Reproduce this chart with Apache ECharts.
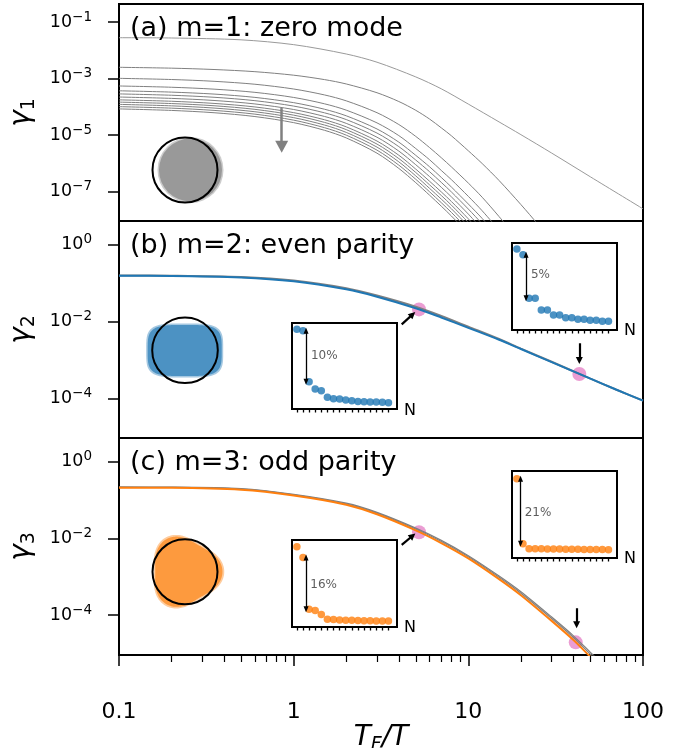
<!DOCTYPE html>
<html><head><meta charset="utf-8">
<script src="https://cdn.jsdelivr.net/npm/echarts@6/dist/echarts.min.js"></script>
<style>html,body{margin:0;padding:0;background:#fff}#c{width:693px;height:748px}</style>
</head><body><div id="c"></div>
<script>
// ---------------- DATA (gamma values stored as log10(gamma)) ----------------
const xTickValues = [0.1, 1, 10, 100];
const xTickLabels = ['0.1', '1', '10', '100'];
const yTicksA = [1e-7, 1e-5, 1e-3, 1e-1];
const yTicksBC = [1e-4, 1e-2, 1e0];

// panel (a): m=1 zero mode, family of gamma_1 curves
const TF_a_top = [0.1,0.2,0.5,1,2,3,5,7,10,15,20,30,50,100];
const logGamma1_curve1 = [-1.555,-1.565,-1.63,-1.80,-2.13,-2.42,-2.94,-3.36,-3.90,-4.53,-4.98,-5.63,-6.47,-7.60];
const TF_a = [0.1,0.2,0.35,0.6,1,1.5,2,3,4,5,6,7,8,10,12,15,20,25,30];
const logGamma1_curve2  = [-2.60,-2.631,-2.678,-2.755,-2.879,-3.034,-3.189,-3.499,-3.809,-4.119,-4.429,-4.739,-5.02,-5.55,-6.00,-6.60,-7.45,-8.15,-8.80];
const logGamma1_curve3  = [-2.99,-3.032,-3.095,-3.199,-3.367,-3.576,-3.785,-4.204,-4.622,-5.041,-5.437,-5.794,-6.12,-6.69,-7.19,-7.875,-8.80,null,null];
const logGamma1_curve4  = [-3.26,-3.305,-3.372,-3.485,-3.665,-3.889,-4.114,-4.564,-5.013,-5.47,-5.866,-6.244,-6.57,-7.16,-7.668,-8.355,null,null,null];
const logGamma1_curve5  = [-3.43,-3.477,-3.546,-3.663,-3.849,-4.081,-4.314,-4.779,-5.244,-5.71,-6.115,-6.49,-6.83,-7.43,-7.94,-8.63,null,null,null];
const logGamma1_curve6  = [-3.54,-3.588,-3.659,-3.779,-3.970,-4.208,-4.447,-4.924,-5.402,-5.876,-6.289,-6.666,-7.004,-7.608,-8.132,-8.824,null,null,null];
const logGamma1_curve7  = [-3.65,-3.699,-3.772,-3.895,-4.091,-4.336,-4.581,-5.070,-5.560,-6.042,-6.462,-6.839,-7.178,-7.786,-8.323,null,null,null,null];
const logGamma1_curve8  = [-3.75,-3.80,-3.876,-4.001,-4.202,-4.453,-4.704,-5.206,-5.707,-6.197,-6.626,-7.002,-7.342,-7.954,-8.505,null,null,null,null];
const logGamma1_curve9  = [-3.83,-3.881,-3.958,-4.086,-4.290,-4.546,-4.802,-5.313,-5.825,-6.316,-6.754,-7.129,-7.47,-8.085,-8.646,null,null,null,null];
const logGamma1_curve10 = [-3.91,-3.962,-4.040,-4.170,-4.379,-4.639,-4.900,-5.420,-5.941,-6.436,-6.878,-7.256,-7.598,-8.216,-8.782,null,null,null,null];
const logGamma1_curve11 = [-3.99,-4.043,-4.123,-4.255,-4.467,-4.732,-4.997,-5.527,-6.057,-6.556,-6.999,-7.383,-7.726,-8.347,-8.913,null,null,null,null];
const logGamma1_curve12 = [-4.07,-4.124,-4.205,-4.340,-4.555,-4.825,-5.095,-5.634,-6.173,-6.676,-7.119,-7.506,-7.854,-8.478,-9.043,null,null,null,null];

// panel (b): m=2 even parity
const TF_b = [0.1,0.2,0.5,1,2,3,5,7,10,15,20,30,50,70,100];
const logGamma2_blue = [-0.816,-0.82,-0.86,-0.96,-1.17,-1.36,-1.66,-1.90,-2.17,-2.48,-2.72,-3.06,-3.49,-3.77,-4.06];
const logGamma2_gray = [-0.81,-0.815,-0.85,-0.94,-1.14,-1.33,-1.62,-1.86,-2.14,-2.46,-2.71,-3.05,-3.49,-3.77,-4.06];
const pinkB = [[5.22,-1.69],[43.2,-3.37]];

// panel (c): m=3 odd parity
const TF_c = [0.1,0.2,0.5,1,2,3,5,7,10,15,20,30,40,50,60];
const logGamma3_orange = [-0.677,-0.68,-0.73,-0.88,-1.12,-1.37,-1.79,-2.12,-2.52,-3.06,-3.48,-4.15,-4.65,-5.09,-5.44];
const logGamma3_gray1  = [-0.667,-0.67,-0.715,-0.86,-1.10,-1.34,-1.755,-2.08,-2.48,-3.015,-3.43,-4.09,-4.585,-5.02,-5.37];
const logGamma3_gray2  = [-0.657,-0.66,-0.70,-0.85,-1.08,-1.32,-1.73,-2.05,-2.45,-2.98,-3.39,-4.05,-4.54,-4.97,-5.32];
const pinkC = [[5.22,-1.84],[41.2,-4.71]];

// annotation arrows [T0, log10 g0, T1, log10 g1]
const arrowA = [[0.854,-4.04,0.854,-5.41]];
const arrowsB = [[4.155,-2.08,4.80,-1.82],[43.2,-2.57,43.2,-3.02]];
const arrowsC = [[4.155,-2.17,4.80,-1.93],[41.7,-3.82,41.7,-4.25]];

// insets: relative gamma vs N (percent above the last value)
const insetN = [1,2,3,4,5,6,7,8,9,10,11,12,13,14,15,16];
const insetB_low  = [14.4,14.1,4.1,2.7,2.35,1.04,0.78,0.73,0.53,0.39,0.25,0.2,0.14,0.14,0.06,0];
const insetB_high = [8.3,7.65,2.65,2.65,1.31,1.31,0.73,0.73,0.42,0.42,0.23,0.23,0.12,0.12,0,0];
const insetC_low  = [22.9,19.6,3.6,3.2,2.0,0.53,0.43,0.31,0.25,0.2,0.15,0.1,0.06,0.03,0.02,0];
const insetC_high = [22.9,1.94,0.32,0.3,0.27,0.24,0.2,0.17,0.14,0.12,0.1,0.08,0.06,0.04,0.02,0];
const insetLabels = ['10%','5%','16%','21%'];

// ---------------- CHART ----------------
const FONT = 'DejaVu Sans';
const L = Math.log10;
const chart = echarts.init(document.getElementById('c'), null, {renderer:'canvas'});

function fmtExp(v){ const n = Math.round(v); return n < 0 ? '\u2212' + (-n) : '' + n; }
const expRich = {
  b:{fontSize:17.5,fontFamily:FONT,color:'#000',lineHeight:24},
  s:{fontSize:13.5,fontFamily:FONT,color:'#000',verticalAlign:'top',lineHeight:13}
};
function mainY(gi, min, max, ticks, sub){
  const tv = ticks.map(L);
  return {type:'value', gridIndex:gi, position:'left', min:min, max:max,
    axisLine:{show:false, onZero:false}, splitLine:{show:false},
    axisTick:{show:true, customValues:tv, length:11, lineStyle:{color:'#000', width:1.5}},
    axisLabel:{show:true, customValues:tv, margin:27, formatter:v=>'{b|10}{s|'+fmtExp(v)+'}', rich:expRich},
    name:'{g|\u03b3}{s|'+sub+'}', nameLocation:'middle', nameGap:74, nameRotate:90,
    nameTextStyle:{rich:{
      g:{fontSize:28,fontFamily:FONT,fontStyle:'italic',color:'#000',lineHeight:34},
      s:{fontSize:19,fontFamily:FONT,color:'#000',verticalAlign:'bottom',lineHeight:20}}}
  };
}
const minorX = [];
[0.1,1,10].forEach(d=>{for(let k=2;k<=9;k++) minorX.push(L(k*d));});

const grids = [
  {left:119, top:4, width:524, height:217},
  {left:119, top:221, width:524, height:217},
  {left:119, top:438, width:524, height:217},
  {left:292, top:323, width:105, height:86},
  {left:512, top:243, width:105, height:87},
  {left:292, top:540, width:105, height:87},
  {left:512, top:471, width:105, height:87}
].map(g=>Object.assign({show:true, borderColor:'#000', borderWidth:2, backgroundColor:'transparent',
  containLabel:false, outerBoundsMode:'none'}, g));

const xAxes = [
  {type:'value', gridIndex:0, position:'bottom', min:-1, max:2, show:false, axisLine:{onZero:false}},
  {type:'value', gridIndex:1, position:'bottom', min:-1, max:2, show:false, axisLine:{onZero:false}},
  {type:'value', gridIndex:2, position:'bottom', min:-1, max:2,
    axisLine:{show:false, onZero:false}, splitLine:{show:false},
    axisTick:{show:true, customValues:xTickValues.map(L), length:11, lineStyle:{color:'#000', width:1.5}},
    axisLabel:{show:true, customValues:xTickValues.map(L), margin:46, fontSize:22, fontFamily:FONT, color:'#000',
      formatter:v=>xTickLabels[xTickValues.findIndex(t=>Math.abs(L(t)-v)<1e-6)]},
    name:'{i|T}{s|F}{i|/T}', nameLocation:'middle', nameGap:65,
    nameTextStyle:{rich:{
      i:{fontSize:28,fontFamily:FONT,fontStyle:'italic',color:'#000',lineHeight:34},
      s:{fontSize:19,fontFamily:FONT,fontStyle:'italic',color:'#000',verticalAlign:'bottom',lineHeight:20}}}},
  {type:'value', gridIndex:2, position:'bottom', min:-1, max:2,
    axisLine:{show:false, onZero:false}, splitLine:{show:false}, axisLabel:{show:false},
    axisTick:{show:true, customValues:minorX, length:7, lineStyle:{color:'#000', width:1.2}}}
];
const insetYR = [[-1.24,15.6],[-1.0,9.0],[-1.86,25.0],[-2.7,25.4]];
for (let i=0;i<4;i++){
  xAxes.push({type:'value', gridIndex:3+i, position:'bottom', min:0.2, max:17.4,
    axisLine:{show:false, onZero:false}, splitLine:{show:false}, axisLabel:{show:false},
    axisTick:{show:true, customValues:insetN, length:3.5, lineStyle:{color:'#000', width:1.3}}});
}
const yAxes = [
  mainY(0, -8.03, -0.364, yTicksA, '1'),
  mainY(1, -5.03, 0.605, yTicksBC, '2'),
  mainY(2, -5.04, 0.62, yTicksBC, '3')
];
insetYR.forEach((r,i)=>yAxes.push({type:'value', gridIndex:3+i, position:'left', min:r[0], max:r[1], show:false, axisLine:{onZero:false}}));

const series = [];
function line(xi, xs, ys, color, width, extra){
  series.push(Object.assign({type:'line', xAxisIndex:xi, yAxisIndex:xi, showSymbol:false, symbol:'none',
    smooth:0.3, clip:true, silent:true, connectNulls:false,
    data: xs.map((t,i)=> [L(t), ys[i]==null ? null : ys[i]]),
    lineStyle:{color:color, width:width}}, extra||{}));
}
function arrowMark(list, color, width, size){
  return {silent:true, symbol:['none','triangle'], symbolSize:size, label:{show:false},
    lineStyle:{color:color, width:width, type:'solid'}, emphasis:{disabled:true}, animation:false,
    data:list.map(a=>[{coord:[L(a[0]),a[1]]},{coord:[L(a[2]),a[3]]}])};
}
// panel (a)
line(0, TF_a_top, logGamma1_curve1, '#9a9a9a', 1, {markLine: arrowMark(arrowA, '#808080', 2.5, [13,12])});
[logGamma1_curve2,logGamma1_curve3,logGamma1_curve4,logGamma1_curve5,logGamma1_curve6,logGamma1_curve7,
 logGamma1_curve8,logGamma1_curve9,logGamma1_curve10,logGamma1_curve11,logGamma1_curve12]
 .forEach(c=>line(0, TF_a, c, '#808080', 1));
// panel (b)
series.push({type:'scatter', xAxisIndex:1, yAxisIndex:1, symbolSize:14, silent:true, z:1,
  itemStyle:{color:'rgba(227,119,194,0.9)'}, data:pinkB.map(p=>[L(p[0]),p[1]]),
  markLine: arrowMark(arrowsB, '#000', 2.2, [7,7])});
line(1, TF_b, logGamma2_gray, '#808080', 2);
line(1, TF_b, logGamma2_blue, '#1f77b4', 2);
// panel (c)
series.push({type:'scatter', xAxisIndex:2, yAxisIndex:2, symbolSize:14, silent:true, z:1,
  itemStyle:{color:'rgba(227,119,194,0.9)'}, data:pinkC.map(p=>[L(p[0]),p[1]]),
  markLine: arrowMark(arrowsC, '#000', 2.2, [7,7])});
line(2, TF_c, logGamma3_gray2, '#808080', 1.2);
line(2, TF_c, logGamma3_gray1, '#808080', 1.2);
line(2, TF_c, logGamma3_orange, '#ff7f0e', 2);

// insets
const insetData = [insetB_low, insetB_high, insetC_low, insetC_high];
const insetColor = ['#1f77b4','#1f77b4','#ff7f0e','#ff7f0e'];
const insetArrow = [[2.5,1,2],[2.5,1,2],[2.5,1,2],[1.6,0,1]];
const insetLabelPos = [[3.3,9.1],[3.3,5.3],[3.2,11.0],[2.27,11.8]];
insetData.forEach((d,i)=>{
  const a = insetArrow[i];
  series.push({type:'scatter', xAxisIndex:4+i, yAxisIndex:3+i, symbolSize:7.5, silent:true,
    itemStyle:{color:insetColor[i]}, data:insetN.map((n,k)=>[n,d[k]]),
    markLine:{silent:true, symbol:['triangle','triangle'], symbolSize:[5,6], label:{show:false}, animation:false,
      lineStyle:{color:'#000', width:1.3, type:'solid'},
      data:[[{coord:[a[0], d[a[1]]]},{coord:[a[0], d[a[2]]]}]]}});
  series.push({type:'scatter', xAxisIndex:4+i, yAxisIndex:3+i, symbolSize:0, silent:true,
    data:[insetLabelPos[i]], label:{show:true, position:'right', distance:0, formatter:insetLabels[i],
      fontSize:12, fontFamily:FONT, color:'#333'}});
});

// schematic shapes
function poly(cx, cy, f, n){ const p=[]; for(let i=0;i<n;i++){const t=2*Math.PI*i/n; const d=f(t); p.push([cx+d[0], cy+d[1]]);} return p; }
function superEll(a,b,p){ return t=>{const c=Math.cos(t), s=Math.sin(t);
  return [a*Math.sign(c)*Math.pow(Math.abs(c),2/p), b*Math.sign(s)*Math.pow(Math.abs(s),2/p)];}; }
function trefoil(R,e){ return t=>{const r=R*(1+e*Math.cos(3*t)); return [r*Math.cos(t), -r*Math.sin(t)];}; }
const TXT = (t,x,y,size)=>({type:'text', x:x, y:y, z:12,
  style:{text:t, font:size+'px "DejaVu Sans"', fill:'#000', verticalAlign:'middle'}});
const graphics = [
  {type:'circle', shape:{cx:190.5,cy:170,r:33}, style:{fill:'rgba(153,153,153,0.5)'}, z:10},
  {type:'circle', shape:{cx:190.5,cy:170,r:31.5}, style:{fill:'#999'}, z:10},
  {type:'circle', shape:{cx:185,cy:170,r:32.5}, style:{fill:'none', stroke:'#000', lineWidth:2}, z:11},
  {type:'polygon', shape:{points:poly(184.7,350.5,superEll(38.5,27,4),200)}, style:{fill:'rgba(76,146,195,0.5)'}, z:10},
  {type:'polygon', shape:{points:poly(184.7,350.5,superEll(37,25.5,4),200)}, style:{fill:'#4c92c3'}, z:10},
  {type:'circle', shape:{cx:185,cy:350.3,r:32.8}, style:{fill:'none', stroke:'#000', lineWidth:2}, z:11},
  {type:'polygon', shape:{points:poly(185,571.7,trefoil(35.2,0.115),200)}, style:{fill:'rgba(253,154,62,0.5)'}, z:10},
  {type:'polygon', shape:{points:poly(185,571.7,trefoil(33.6,0.115),200)}, style:{fill:'#fd9a3e'}, z:10},
  {type:'circle', shape:{cx:185,cy:571.7,r:32.5}, style:{fill:'none', stroke:'#000', lineWidth:2}, z:11},
  TXT('(a) m=1: zero mode',130,28.5,27),
  TXT('(b) m=2: even parity',130,245.5,27),
  TXT('(c) m=3: odd parity',130,463,27),
  TXT('N',404,411,16), TXT('N',624,331,16), TXT('N',404,628,16), TXT('N',624,559,16)
];

chart.setOption({
  animation:false, backgroundColor:'#fff',
  textStyle:{fontFamily:FONT},
  grid:grids, xAxis:xAxes, yAxis:yAxes, series:series, graphic:graphics
});
</script></body></html>
